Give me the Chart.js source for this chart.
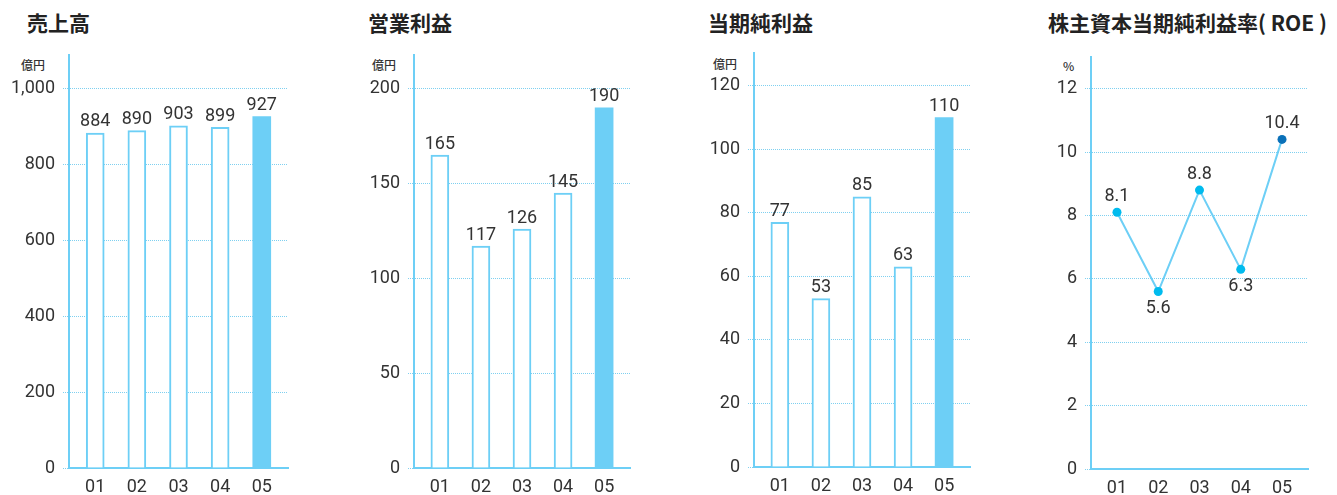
<!DOCTYPE html>
<html>
<head>
<meta charset="utf-8">
<script src="https://cdn.jsdelivr.net/npm/chart.js@4"></script>
<style>
  body { margin: 0; width: 1337px; height: 495px; background: #fff; position: relative; overflow: hidden; }
  .ttl { position: absolute; top: 12px; font: bold 21px "Noto Sans CJK JP"; line-height: 1; color: #222; white-space: nowrap; }
  .unit { position: absolute; top: 59px; font: 500 12px "Noto Sans CJK JP"; line-height: 1; color: #333; }
  .box { position: absolute; top: 0; height: 495px; }
</style>
</head>
<body>
<div class="ttl" style="left:27px">売上高</div>
<div class="ttl" style="left:368px">営業利益</div>
<div class="ttl" style="left:708px">当期純利益</div>
<div class="ttl" style="left:1048px">株主資本当期純利益率( ROE )</div>
<div class="unit" style="left:21px">億円</div>
<div class="unit" style="left:372px">億円</div>
<div class="unit" style="left:713px;top:58px">億円</div>
<div class="unit" style="left:1063px;top:60px">%</div>

<div class="box" id="b1"><canvas id="c1"></canvas></div>
<div class="box" id="b2"><canvas id="c2"></canvas></div>
<div class="box" id="b3"><canvas id="c3"></canvas></div>
<div class="box" id="b4"><canvas id="c4"></canvas></div>

<script>
// data
const years = ['01', '02', '03', '04', '05'];
const sales = [884, 890, 903, 899, 927];          // 売上高 (億円)
const opIncome = [165, 117, 126, 145, 190];       // 営業利益 (億円)
const netIncome = [77, 53, 85, 63, 110];          // 当期純利益 (億円)
const roe = [8.1, 5.6, 8.8, 6.3, 10.4];           // ROE (%)

const BLUE = '#6dcff6';
const GRID = '#7fd0f0';
const TEXT = '#333';
const FONT = 'Roboto';

// value labels above bars / around points
const valueLabels = {
  id: 'valueLabels',
  afterDatasetsDraw(chart) {
    const ctx = chart.ctx;
    const meta = chart.getDatasetMeta(0);
    const vals = chart.data.datasets[0].data.map(d => d.y);
    const isLine = chart.config.type === 'line';
    ctx.save();
    ctx.font = '18px ' + FONT;
    ctx.fillStyle = TEXT;
    ctx.textAlign = 'center';
    ctx.textBaseline = 'middle';
    meta.data.forEach((el, i) => {
      let txt = isLine ? vals[i].toFixed(1) : String(vals[i]);
      let y = el.y - 11;
      if (isLine) {
        y = el.y - 16;
        if (i > 0 && vals[i] < vals[i - 1]) y = el.y + 17;
      }
      ctx.fillText(txt, el.x, y);
    });
    ctx.restore();
  }
};

function makePanel(p) {
  const box = document.getElementById(p.box);
  const canvasLeft = p.axis - 74;
  const canvasWidth = p.right - canvasLeft + 20;
  box.style.left = canvasLeft + 'px';
  box.style.width = canvasWidth + 'px';

  const points = p.values.map((v, i) => ({ x: i + 1, y: v }));
  const last = p.values.length - 1;

  let dataset;
  if (p.type === 'bar') {
    dataset = {
      data: points,
      backgroundColor: p.values.map((v, i) => i === last ? BLUE : '#ffffff'),
      borderColor: BLUE,
      borderWidth: p.values.map((v, i) => i === last ? 0 : 2),
      barThickness: 18
    };
  } else {
    dataset = {
      data: points,
      borderColor: BLUE,
      borderWidth: 2,
      tension: 0,
      pointRadius: 4.5,
      pointBorderWidth: 0,
      pointBackgroundColor: p.values.map((v, i) => i === last ? '#0a70b8' : '#00bbee')
    };
  }

  new Chart(document.getElementById(p.canvas), {
    type: p.type,
    data: { datasets: [dataset] },
    options: {
      responsive: true,
      maintainAspectRatio: false,
      animation: false,
      events: [],
      layout: { padding: { top: p.top, left: 0, right: canvasWidth - (p.right - canvasLeft), bottom: 0 } },
      plugins: { legend: { display: false }, tooltip: { enabled: false } },
      scales: {
        x: {
          type: 'linear',
          offset: false,
          min: 0.37,
          max: 5.63,
          afterFit: s => { s.height = 495 - p.bottom; },
          afterBuildTicks: s => { s.ticks = years.map((y, i) => ({ value: i + 1 })); },
          grid: { display: false, drawTicks: false, offset: false },
          border: { display: true, color: BLUE, width: 2 },
          ticks: {
            color: TEXT,
            font: { family: FONT, size: 18 },
            padding: 9,
            autoSkip: false,
            maxRotation: 0,
            callback: v => years[v - 1]
          }
        },
        y: {
          min: 0,
          max: p.max,
          afterFit: s => { s.width = 74; },
          afterBuildTicks: s => {
            const t = [];
            for (let v = 0; v <= p.max; v += p.step) t.push({ value: v });
            s.ticks = t;
          },
          grid: {
            color: GRID,
            lineWidth: 1,
            tickBorderDash: [1, 1],
            tickColor: GRID,
            tickLength: 6,
            drawTicks: true
          },
          border: { display: true, color: BLUE, width: 2, dash: [1, 1] },
          ticks: {
            color: TEXT,
            font: { family: FONT, size: 18 },
            padding: 8,
            callback: v => v.toLocaleString('en-US')
          }
        }
      }
    },
    plugins: [valueLabels]
  });
}

makePanel({ box: 'b1', canvas: 'c1', type: 'bar', values: sales, axis: 69, right: 288, top: 55, bottom: 468, max: 1089.7, step: 200 });
makePanel({ box: 'b2', canvas: 'c2', type: 'bar', values: opIncome, axis: 414, right: 630, top: 55, bottom: 468, max: 217.8, step: 50 });
makePanel({ box: 'b3', canvas: 'c3', type: 'bar', values: netIncome, axis: 754, right: 970, top: 53, bottom: 467, max: 130.3, step: 20 });
makePanel({ box: 'b4', canvas: 'c4', type: 'line', values: roe, axis: 1091, right: 1308, top: 57, bottom: 469, max: 13.0, step: 2 });
</script>
</body>
</html>
